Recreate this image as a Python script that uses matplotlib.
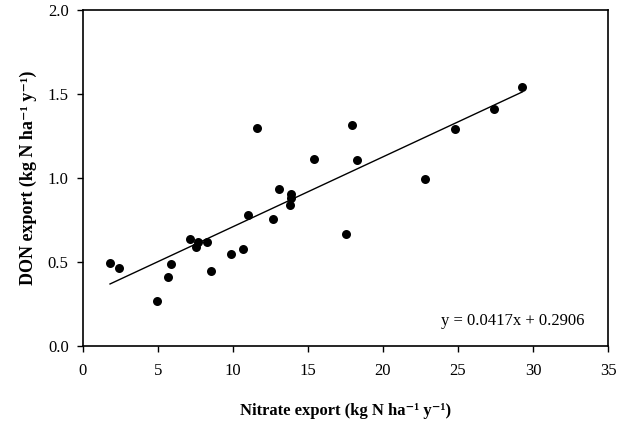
import matplotlib
matplotlib.use("Agg")
import matplotlib.pyplot as plt
import numpy as np

nitrate = [1.83, 2.43, 4.94, 5.67, 5.89, 7.18, 7.54, 7.71, 8.31, 8.58, 9.87, 10.71,
           11.0, 11.6, 12.66, 13.10, 13.86, 13.86, 13.79, 15.39, 17.56, 17.92, 18.26,
           22.80, 24.82, 27.38, 29.28]
don = [0.490, 0.464, 0.267, 0.410, 0.486, 0.635, 0.589, 0.617, 0.617, 0.444, 0.547, 0.577,
       0.780, 1.299, 0.753, 0.931, 0.903, 0.877, 0.838, 1.112, 0.663, 1.313, 1.106,
       0.991, 1.291, 1.412, 1.540]
slope = 0.0417
intercept = 0.2906
x_ticks = [0, 5, 10, 15, 20, 25, 30, 35]
y_ticks = [0.0, 0.5, 1.0, 1.5, 2.0]

serif = ['Liberation Serif', 'DejaVu Serif']
plt.rcParams['font.family'] = serif

fig = plt.figure(figsize=(6.3, 4.25), dpi=100)
ax = fig.add_axes([0.131, 0.187, 0.8345, 0.7895])

ax.scatter(nitrate, don, s=42, color='black', zorder=3, linewidths=0)
xl = np.array([min(nitrate), max(nitrate)])
ax.plot(xl, slope * xl + intercept, color='black', lw=1.0)

ax.set_xlim(0, 35)
ax.set_ylim(0, 2.0)
ax.set_xticks(x_ticks)
ax.set_xticklabels([str(t) for t in x_ticks])
ax.set_yticks(y_ticks)
ax.set_yticklabels([f"{t:.1f}" for t in y_ticks])
ax.tick_params(direction='out', length=4, width=1, labelsize=12)
ax.tick_params(axis='x', pad=8.5)
ax.tick_params(axis='y', pad=6)
for s in ax.spines.values():
    s.set_linewidth(1.2)

ax.set_xlabel('Nitrate export (kg N ha\u207b\u00b9 y\u207b\u00b9)', fontsize=12,
              fontweight='bold', labelpad=17.5)
ax.set_ylabel('DON export (kg N ha\u207b\u00b9 y\u207b\u00b9)', fontsize=13,
              fontweight='bold', labelpad=8)
ax.text(33.45, 0.122, f'y = {slope}x + {intercept}', ha='right', va='baseline', fontsize=12)

fig.savefig('out.png', dpi=100)
